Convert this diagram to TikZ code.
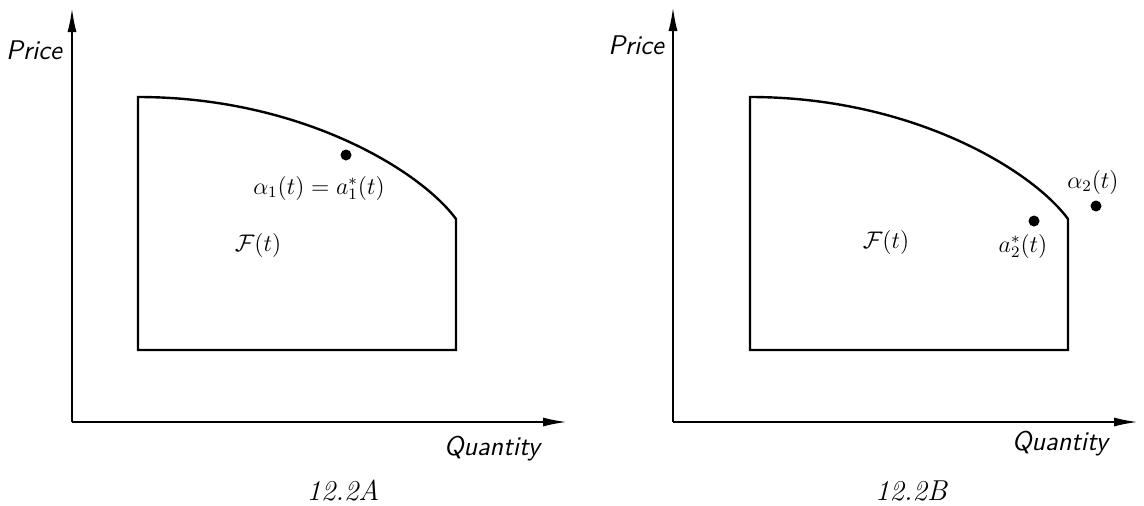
\documentclass[tikz,border=0pt]{standalone}
\usetikzlibrary{arrows.meta}
\begin{document}
\begin{tikzpicture}[x=.5pt,y=-.5pt,line width=1.2pt,
  every node/.style={font=\large,inner sep=1pt},
  axis/.style={line width=1pt,-{Latex[length=12pt,width=4.5pt]}},
  axislabel/.style={font=\fontsize{13.5}{16}\selectfont\sffamily\itshape},
  dot/.style={circle,fill,inner sep=0pt,minimum size=5.5pt},
  caption/.style={font=\Large\itshape}]
  \path[use as bounding box] (0,0) rectangle (1144,505);
  % 12.2A
  \coordinate (O1) at (72,422);
  \coordinate (Y1) at (72,8);
  \coordinate (X1) at (567,422);
  \draw[axis] (O1)--(Y1);
  \draw[axis] (O1)--(X1);
  \coordinate (A1) at (138,350);
  \coordinate (B1) at (138,97);
  \coordinate (C1) at (456,219);
  \coordinate (D1) at (456,350);
  \draw (A1)--(B1) .. controls (300,97) and (420,170) .. (C1)--(D1)--cycle;
  \node[axislabel] (price1) at (34,50) {Price};
  \node[axislabel] (qty1) at (492,449) {Quantity};
  \node[dot] (p1) at (346,155) {};
  \node (lp1) at (319,188) {$\alpha_1(t)=a_1^*(t)$};
  \node (set1) at (258,245) {$\mathcal{F}(t)$};
  \node[caption] (cap1) at (343,491) {12.2A};
  % 12.2B
  \coordinate (O2) at (673,422);
  \coordinate (Y2) at (673,7);
  \coordinate (X2) at (1138,422);
  \draw[axis] (O2)--(Y2);
  \draw[axis] (O2)--(X2);
  \coordinate (A2) at (750,350);
  \coordinate (B2) at (750,97);
  \coordinate (C2) at (1068,219);
  \coordinate (D2) at (1068,350);
  \draw (A2)--(B2) .. controls (912,97) and (1032,170) .. (C2)--(D2)--cycle;
  \node[axislabel] (price2) at (636,45) {Price};
  \node[axislabel] (qty2) at (1060,444) {Quantity};
  \node[dot] (p2) at (1034,221) {};
  \node (lp2) at (1023,246) {$a_2^*(t)$};
  \node[dot] (q2) at (1096,206) {};
  \node (lq2) at (1093,182) {$\alpha_2(t)$};
  \node (set2) at (886,242) {$\mathcal{F}(t)$};
  \node[caption] (cap2) at (911,491) {12.2B};
\end{tikzpicture}
\end{document}
